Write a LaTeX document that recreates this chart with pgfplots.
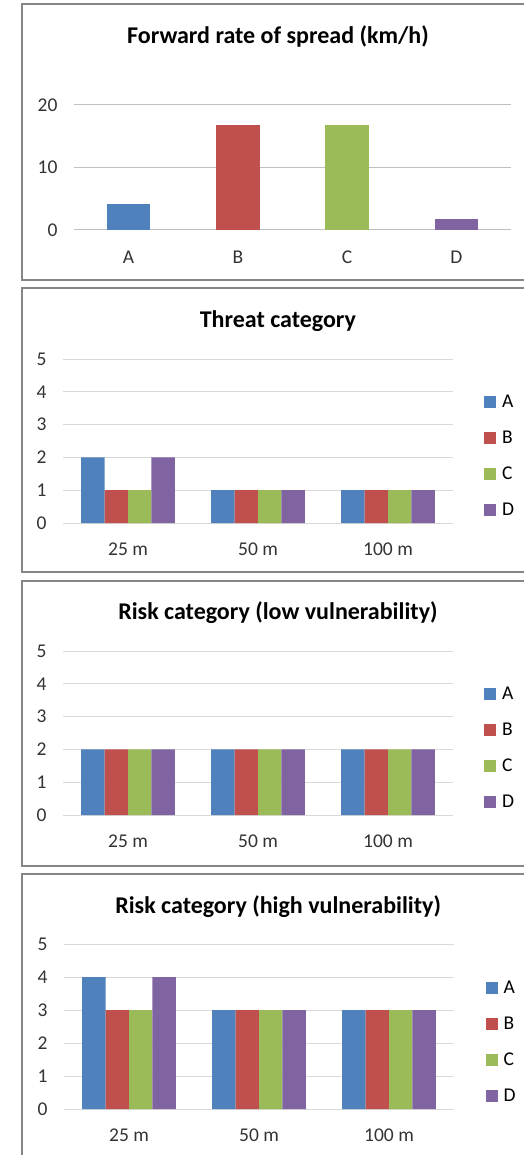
\documentclass[border=0pt]{standalone}
\usepackage{fontspec}
\setmainfont{Carlito}
\usepackage{pgfplots}
\pgfplotsset{compat=1.18}
\definecolor{cA}{HTML}{4F81BD}
\definecolor{cB}{HTML}{C0504D}
\definecolor{cC}{HTML}{9BBB59}
\definecolor{cD}{HTML}{8064A2}
\definecolor{frame}{HTML}{868686}
\definecolor{gridlight}{HTML}{D9D9D9}
\definecolor{gridmid}{HTML}{C0C0C0}
\definecolor{griddark}{HTML}{858585}
\definecolor{axisgray}{HTML}{A0A0A0}
\definecolor{txt}{HTML}{333333}
\newcommand{\tickfont}{\fontsize{19.5}{22}\selectfont}
\newcommand{\titlefont}{\fontsize{24}{28}\selectfont\bfseries}
\pgfplotsset{
  panel/.style={
    scale only axis,
    enlargelimits=false,
    axis line style={draw=none},
    major tick length=0pt,
    tick style={draw=none},
    ticklabel style={font=\tickfont, text=txt},
    yticklabel style={xshift=-13pt},
    xticklabel style={yshift=-16pt},
    ymajorgrids,
    /pgf/number format/assume math mode=true,
    title style={font=\titlefont, text=black, anchor=center},
  },
  group/.style={
    panel,
    width=390pt, height=164pt,
    xmin=-0.5, xmax=2.5, ymin=0, ymax=5,
    ybar=0pt, bar width=23.4pt,
    xtick={0,1,2}, xticklabels={25 m,50 m,100 m},
    ytick={1,2,3,4,5},
    extra y ticks={0},
    extra y tick style={grid style={color=axisgray, line width=1pt}},
    major grid style={color=gridlight, line width=1pt},
    legend style={draw=none, fill=none, inner sep=0pt, font=\tickfont, text=black,
      row sep=22pt, column sep=6pt, anchor=north west,
      nodes={inner sep=0pt}},
    legend cell align=left,
    legend image code/.code={\fill[##1,draw=none] (0pt,-6pt) rectangle (12pt,6pt);},
  },
}
\begin{document}
\begin{tikzpicture}
\useasboundingbox (0pt,0pt) rectangle (523pt,-1155pt);
% panel frames
\draw[frame, line width=1.3pt] (530pt,-4pt) -- (22pt,-4pt) -- (22pt,-280pt) -- (530pt,-280pt);
\draw[frame, line width=1.3pt] (530pt,-288pt) -- (22pt,-288pt) -- (22pt,-572pt) -- (530pt,-572pt);
\draw[frame, line width=1.3pt] (530pt,-581pt) -- (22pt,-581pt) -- (22pt,-866pt) -- (530pt,-866pt);
\draw[frame, line width=1.3pt] (530pt,-874pt) -- (22pt,-874pt) -- (22pt,-1160pt);

% Panel 1
\begin{axis}[panel,
  at={(74pt,-230pt)}, anchor=south west,
  width=437pt, height=125pt,
  xmin=-0.5, xmax=3.5, ymin=0, ymax=20,
  ybar, bar width=43.7pt, bar shift=0pt,
  xtick={0,1,2,3}, xticklabels={A,B,C,D},
  xticklabel style={yshift=-1pt},
  ytick={10},
  extra y ticks={0,20},
  extra y tick style={grid style={color=griddark, line width=1pt}},
  major grid style={color=gridmid, line width=1pt},
  title={Forward rate of spread (km/h)},
  title style={at={(axis description cs:0.4668,1)}, yshift=63pt},
]
\addplot[fill=cA, draw=none] coordinates {(0,4.2)};
\addplot[fill=cB, draw=none] coordinates {(1,16.8)};
\addplot[fill=cC, draw=none] coordinates {(2,16.8)};
\addplot[fill=cD, draw=none] coordinates {(3,1.7)};
\end{axis}

% Panel 2
\begin{axis}[group,
  at={(63pt,-523pt)}, anchor=south west,
  title={Threat category},
  title style={at={(axis description cs:0.551,1)}, yshift=32pt},
  legend style={at={(axis description cs:1.0795,0.7805)}},
]
\addplot[fill=cA, draw=none] coordinates {(0,2) (1,1) (2,1)};
\addplot[fill=cB, draw=none] coordinates {(0,1) (1,1) (2,1)};
\addplot[fill=cC, draw=none] coordinates {(0,1) (1,1) (2,1)};
\addplot[fill=cD, draw=none] coordinates {(0,2) (1,1) (2,1)};
\legend{A,B,C,D}
\end{axis}

% Panel 3
\begin{axis}[group,
  at={(63pt,-815pt)}, anchor=south west,
  title={Risk category (low vulnerability)},
  title style={at={(axis description cs:0.551,1)}, yshift=32pt},
  legend style={at={(axis description cs:1.0795,0.7805)}},
]
\addplot[fill=cA, draw=none] coordinates {(0,2) (1,2) (2,2)};
\addplot[fill=cB, draw=none] coordinates {(0,2) (1,2) (2,2)};
\addplot[fill=cC, draw=none] coordinates {(0,2) (1,2) (2,2)};
\addplot[fill=cD, draw=none] coordinates {(0,2) (1,2) (2,2)};
\legend{A,B,C,D}
\end{axis}

% Panel 4
\begin{axis}[group,
  at={(64pt,-1109pt)}, anchor=south west, height=165pt,
  title={Risk category (high vulnerability)},
  title style={at={(axis description cs:0.549,1)}, yshift=31pt},
  legend style={at={(axis description cs:1.0805,0.776)}},
]
\addplot[fill=cA, draw=none] coordinates {(0,4) (1,3) (2,3)};
\addplot[fill=cB, draw=none] coordinates {(0,3) (1,3) (2,3)};
\addplot[fill=cC, draw=none] coordinates {(0,3) (1,3) (2,3)};
\addplot[fill=cD, draw=none] coordinates {(0,4) (1,3) (2,3)};
\legend{A,B,C,D}
\end{axis}
\end{tikzpicture}
\end{document}
